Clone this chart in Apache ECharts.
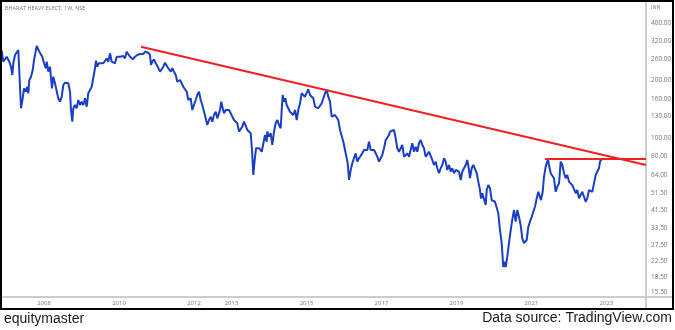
<!DOCTYPE html>
<html>
<head>
<meta charset="utf-8">
<script src="https://cdn.jsdelivr.net/npm/echarts@6/dist/echarts.min.js"></script>
<style>
html,body{margin:0;padding:0;background:#fff;}
#chart{width:675px;height:330px;}
</style>
</head>
<body>
<div id="chart"></div>
<script>
// Weekly close, BHEL (NSE), [decimal year, price INR]
const bhelWeekly = [
[2006.872,286.3],[2006.915,250.7],[2006.960,246.8],[2007.006,266.2],[2007.048,271.7],[2007.075,250.7],[2007.120,236.0],[2007.155,213.5],[2007.182,245.9],[2007.227,271.7],
[2007.272,277.4],[2007.315,288.7],[2007.342,294.7],[2007.360,185.3],[2007.387,142.8],[2007.432,161.1],[2007.467,181.8],[2007.512,174.5],[2007.555,185.3],[2007.582,171.2],
[2007.608,201.0],[2007.654,209.2],[2007.699,226.7],[2007.734,255.8],[2007.768,277.4],[2007.806,303.0],[2007.840,300.5],[2007.875,282.9],[2007.912,286.3],[2007.955,266.2],
[2008.000,245.9],[2008.045,231.5],[2008.072,250.7],[2008.115,222.2],[2008.160,236.0],[2008.187,205.2],[2008.214,181.8],[2008.248,209.2],[2008.293,193.1],[2008.339,193.1],
[2008.381,161.1],[2008.427,154.6],[2008.472,164.3],[2008.515,189.2],[2008.560,194.6],[2008.605,190.8],[2008.648,193.1],[2008.694,174.5],[2008.720,139.9],[2008.755,121.5],
[2008.782,142.8],[2008.827,148.6],[2008.872,142.8],[2008.915,157.8],[2008.960,148.6],[2009.005,154.6],[2009.048,148.6],[2009.094,161.1],[2009.139,145.6],[2009.181,171.2],
[2009.227,174.5],[2009.272,185.3],[2009.315,189.2],[2009.352,226.7],[2009.387,253.7],[2009.422,236.0],[2009.459,245.9],[2009.494,240.9],[2009.582,245.9],[2009.627,250.7],
[2009.672,261.2],[2009.715,250.7],[2009.760,277.4],[2009.806,250.7],[2009.848,255.8],[2009.894,245.9],[2009.939,266.2],[2009.981,261.2],[2010.027,266.2],[2010.072,261.2],
[2010.115,268.5],[2010.160,261.2],[2010.205,282.9],[2010.248,277.4],[2010.294,266.2],[2010.339,261.2],
[2010.366,258.0],[2010.427,266.2],[2010.488,271.7],[2010.560,275.1],[2010.606,279.5],[2010.648,275.1],[2010.694,282.9],[2010.739,288.7],[2010.781,279.5],[2010.827,271.7],
[2010.854,240.9],[2010.888,250.7],[2010.934,258.0],[2010.979,245.9],[2011.022,238.0],[2011.067,236.0],[2011.094,222.2],[2011.139,217.9],[2011.182,236.0],[2011.227,247.7],
[2011.254,252.8],[2011.288,236.0],[2011.334,231.5],[2011.379,222.2],[2011.422,231.5],[2011.467,222.2],[2011.512,213.5],[2011.555,196.9],[2011.600,193.1],[2011.627,201.0],
[2011.672,193.1],[2011.715,185.3],[2011.760,181.8],[2011.806,174.5],[2011.848,157.8],[2011.875,154.6],[2011.912,161.1],[2011.955,139.9],[2012.000,148.6],[2012.046,157.8],
[2012.088,167.7],[2012.134,174.5],[2012.179,157.8],[2012.222,148.6],[2012.267,137.0],[2012.312,126.5],[2012.355,116.7],[2012.400,124.0],[2012.446,129.0],[2012.488,121.5],
[2012.534,131.7],[2012.579,137.0],[2012.622,126.5],[2012.667,124.0],[2012.694,139.9],[2012.728,154.6],[2012.766,142.8],[2012.800,134.4],[2012.846,139.9],[2012.888,137.0],
[2012.934,139.9],[2012.979,134.4],[2013.022,137.0],[2013.067,124.0],[2013.112,121.5],[2013.155,119.2],[2013.200,107.7],[2013.246,109.9],[2013.288,114.4],[2013.334,121.5],
[2013.379,119.2],[2013.422,109.9],[2013.467,112.2],[2013.512,105.6],[2013.547,86.3],[2013.582,63.8],[2013.619,76.5],[2013.654,88.1],[2013.699,89.8],[2013.742,88.1],
[2013.760,89.8],[2013.806,84.5],[2013.848,82.9],[2013.894,103.5],[2013.939,95.4],[2013.955,107.7],[2014.000,101.4],[2014.046,105.6],[2014.088,91.7],[2014.134,107.7],
[2014.179,119.2],[2014.222,124.0],[2014.267,116.7],[2014.312,112.2],[2014.339,139.9],[2014.366,167.7],[2014.400,154.6],[2014.435,161.1],[2014.472,148.6],[2014.515,142.8],
[2014.560,137.0],[2014.606,137.0],[2014.648,131.7],[2014.694,139.9],[2014.739,124.0],[2014.781,139.9],[2014.827,151.7],[2014.872,171.2],[2014.915,174.5],[2014.960,164.3],
[2015.006,167.7],[2015.048,179.7],[2015.094,167.7],[2015.139,169.7],[2015.182,161.1],[2015.227,145.6],[2015.272,148.6],[2015.315,142.8],[2015.360,145.6],[2015.406,151.7],
[2015.448,154.6],[2015.494,171.2],[2015.539,178.1],[2015.582,164.3],[2015.627,154.6],[2015.672,129.0],[2015.715,126.5],[2015.760,131.7],[2015.806,129.0],[2015.848,124.0],
[2015.894,109.9],[2015.939,107.7],[2015.982,95.4],[2016.027,86.3],[2016.072,84.5],[2016.099,73.5],[2016.134,60.1],[2016.179,67.8],[2016.222,73.5],[2016.267,78.1],
[2016.312,82.9],[2016.355,75.0],[2016.400,78.1],[2016.446,76.5],[2016.488,82.9],[2016.534,86.3],[2016.579,88.1],[2016.622,86.3],[2016.667,95.4],[2016.712,86.3],
[2016.755,84.5],[2016.800,86.3],[2016.846,82.9],[2016.888,79.6],[2016.934,75.0],[2016.979,78.1],[2017.022,81.2],[2017.067,88.1],[2017.112,97.4],[2017.155,99.4],
[2017.200,103.5],
[2017.227,107.7],[2017.272,109.9],[2017.334,109.9],[2017.379,99.4],[2017.422,88.1],[2017.467,84.5],[2017.512,86.3],[2017.555,91.7],[2017.600,79.6],[2017.646,81.2],
[2017.688,82.9],[2017.734,79.6],[2017.779,81.2],[2017.822,93.6],[2017.867,84.5],[2017.912,89.8],[2017.955,84.5],[2018.000,93.6],[2018.046,97.4],[2018.088,91.7],
[2018.134,88.1],[2018.179,79.6],[2018.222,81.2],[2018.267,84.5],[2018.312,84.5],[2018.355,76.5],[2018.400,72.0],[2018.446,75.0],[2018.488,69.2],[2018.534,65.2],
[2018.579,69.2],[2018.622,72.0],[2018.667,78.1],[2018.712,75.0],[2018.755,67.8],[2018.800,72.0],[2018.846,66.5],[2018.888,69.2],[2018.934,65.2],[2018.979,67.8],
[2019.022,69.2],[2019.067,66.5],[2019.112,60.1],[2019.155,66.5],[2019.200,69.2],[2019.246,72.0],[2019.288,76.5],[2019.334,67.8],[2019.360,61.4],[2019.406,69.2],
[2019.448,72.0],[2019.494,70.6],[2019.539,65.2],[2019.582,58.9],[2019.627,53.2],[2019.654,48.1],[2019.688,51.2],[2019.734,50.1],[2019.779,44.4],[2019.806,53.2],
[2019.848,56.5],[2019.894,54.3],[2019.939,47.1],[2019.982,48.1],[2020.027,46.2],[2020.072,45.3],[2020.115,40.2],[2020.160,32.8],[2020.206,28.0],[2020.248,21.0],
[2020.275,22.4],[2020.312,21.0],[2020.355,23.8],[2020.400,28.0],[2020.446,32.8],[2020.488,37.1],[2020.534,41.8],[2020.579,36.3],[2020.622,41.8],[2020.667,38.5],
[2020.712,34.8],[2020.755,29.7],[2020.800,28.0],
[2020.872,29.1],[2020.915,34.1],[2020.960,36.3],[2021.006,38.5],[2021.048,40.9],[2021.094,43.5],[2021.139,48.1],[2021.182,52.1],[2021.227,53.2],[2021.254,47.1],
[2021.299,52.1],[2021.334,62.5],[2021.379,70.6],[2021.440,77.2],[2021.467,72.0],[2021.512,65.2],[2021.555,66.5],[2021.600,61.4],[2021.646,52.1],[2021.688,55.4],
[2021.734,57.7],[2021.779,75.0],[2021.822,72.0],[2021.867,65.2],[2021.912,61.4],[2021.955,63.8],[2022.000,58.9],[2022.046,60.1],[2022.088,56.5],[2022.134,55.4],
[2022.179,51.2],[2022.222,53.2],[2022.267,48.1],[2022.312,50.1],[2022.355,52.1],[2022.400,51.2],[2022.446,46.2],[2022.488,48.1],[2022.534,53.2],[2022.579,54.3],
[2022.622,52.1],[2022.667,57.7],[2022.712,63.8],[2022.755,65.2],[2022.800,69.2],[2022.827,75.0],[2022.872,77.2]
];

// Falling trendline and horizontal resistance: [decimal year, price]
const trendLine = [[2010.587, 300.5], [2024.054, 72.0]];
const resistanceLine = [[2021.360, 77.5], [2024.054, 77.5]];

// Axis ticks
const priceTicks = [400, 320, 260, 200, 160, 130, 100, 80, 64, 51.5, 41.5, 33.5, 27.5, 22.5, 18.5, 15.5];
const yearTicks = [2008, 2010, 2012, 2013, 2015, 2017, 2019, 2021, 2023];
const priceRange = [14.62, 515.6];
const yearRange = [2006.880, 2024.054];

const toLog = pts => pts.map(p => [p[0], Math.log10(p[1])]);

const chart = echarts.init(document.getElementById('chart'), null, {renderer: 'canvas'});
chart.setOption({
  animation: false,
  backgroundColor: '#ffffff',
  grid: {left: 2, right: 29, top: 2, bottom: 33, containLabel: false},
  xAxis: {
    type: 'value',
    min: yearRange[0],
    max: yearRange[1],
    axisLine: {show: true, lineStyle: {color: '#cccccc', width: 2}},
    axisTick: {show: false},
    splitLine: {show: false},
    axisLabel: {
      customValues: yearTicks,
      formatter: v => String(Math.round(v)),
      fontSize: 6,
      color: '#777777',
      fontFamily: 'Open Sans',
      margin: 3
    }
  },
  yAxis: {
    type: 'value',
    position: 'right',
    min: Math.log10(priceRange[0]),
    max: Math.log10(priceRange[1]),
    axisLine: {show: true, lineStyle: {color: '#bdbdbd', width: 1.5}},
    axisTick: {show: false},
    splitLine: {show: false},
    axisLabel: {
      customValues: priceTicks.map(v => Math.log10(v)),
      formatter: v => Math.pow(10, v).toFixed(2),
      fontSize: 6.5,
      color: '#777777',
      fontFamily: 'Open Sans',
      margin: 5
    }
  },
  series: [
    {
      type: 'line',
      data: toLog(bhelWeekly),
      showSymbol: false,
      symbol: 'none',
      lineStyle: {color: '#1a3fc4', width: 2},
      z: 3
    },
    {
      type: 'line',
      data: toLog(trendLine),
      showSymbol: false,
      symbol: 'none',
      lineStyle: {color: '#f22020', width: 2},
      z: 4
    },
    {
      type: 'line',
      data: toLog(resistanceLine),
      showSymbol: false,
      symbol: 'none',
      lineStyle: {color: '#f22020', width: 2},
      z: 4
    }
  ],
  graphic: [
    {type: 'rect', shape: {x: 1, y: 1, width: 672, height: 308}, style: {fill: 'none', stroke: '#000000', lineWidth: 2}, z: 10},
    {type: 'line', shape: {x1: 646, y1: 297, x2: 646, y2: 308}, style: {stroke: '#bdbdbd', lineWidth: 1.5}, z: 5},
    {type: 'line', shape: {x1: 646, y1: 297, x2: 672, y2: 297}, style: {stroke: '#cccccc', lineWidth: 2}, z: 5},
    {type: 'text', left: 5, top: 5, style: {text: 'BHARAT HEAVY ELECT, 1W, NSE', fontSize: 5.5, fill: '#777777', fontFamily: 'Open Sans'}, z: 10},
    {type: 'text', left: 651, top: 4, style: {text: 'INR', fontSize: 5.5, fill: '#777777', fontFamily: 'Open Sans'}, z: 10},
    {type: 'text', left: 4, top: 312, style: {text: 'equitymaster', fontSize: 14, fill: '#1a1a1a', fontFamily: 'Liberation Sans'}, z: 10},
    {type: 'text', right: 3, top: 311, style: {text: 'Data source: TradingView.com', fontSize: 14, fill: '#1a1a1a', fontFamily: 'Liberation Sans'}, z: 10}
  ]
});
</script>
</body>
</html>
